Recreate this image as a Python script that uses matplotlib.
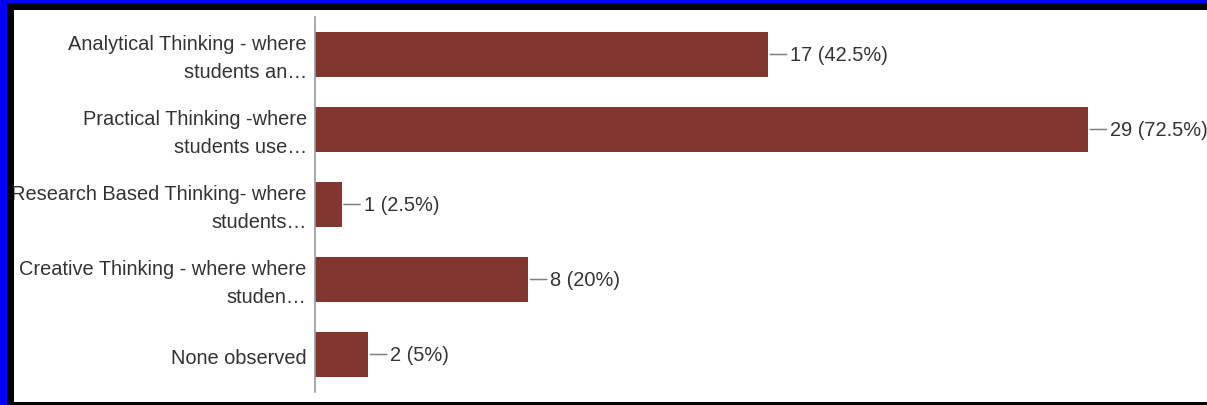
import matplotlib.pyplot as plt
from matplotlib.patches import Rectangle
from matplotlib.transforms import ScaledTranslation

# Survey answers: which kind of thinking was observed
categories = [
    "Analytical Thinking - where\nstudents an\u2026",
    "Practical Thinking -where\nstudents use\u2026",
    "Research Based Thinking- where\nstudents\u2026",
    "Creative Thinking - where where\nstuden\u2026",
    "None observed",
]
counts = [17, 29, 1, 8, 2]
percents = ["42.5%", "72.5%", "2.5%", "20%", "5%"]

W, H = 1207, 406
bar_color = "#82372e"

plt.rcParams['font.family'] = ['Liberation Sans', 'DejaVu Sans']

fig = plt.figure(figsize=(W / 100, H / 100), dpi=100, facecolor="white")
ax = fig.add_axes([315 / W, 13 / H, 875 / W, 375 / H])

ypos = list(range(len(categories)))
ax.barh(ypos, counts, height=0.61, color=bar_color, zorder=2)
ax.set_xlim(0, 875 / 26.66)
ax.set_ylim(len(categories) - 0.5, -0.5)

ax.set_yticks(ypos)
ax.set_yticklabels(categories, fontsize=14.4, color="#333333", linespacing=1.65, va="center")
ax.tick_params(axis="y", length=0, pad=6)
ax.set_xticks([])
# nudge the category labels down a little
nudge = ScaledTranslation(0, -3 / 100, fig.dpi_scale_trans)
for lbl in ax.get_yticklabels():
    lbl.set_transform(lbl.get_transform() + nudge)

for s in ["top", "right", "bottom"]:
    ax.spines[s].set_visible(False)
ax.spines["left"].set_color("#9a9a9a")
ax.spines["left"].set_linewidth(1.2)

# value labels with a short leader line
for i, (c, p) in enumerate(zip(counts, percents)):
    ax.annotate(f"{c} ({p})", xy=(c, i), xytext=(22, 0), textcoords="offset pixels",
                va="center", ha="left", fontsize=14.4, color="#333333",
                annotation_clip=False,
                arrowprops=dict(arrowstyle="-", color="#808080", lw=1.1,
                                relpos=(0, 0.5), shrinkA=0.5, shrinkB=1.5))


def frame(x0, y0, w, h, color):
    fig.patches.append(Rectangle((x0 / W, 1 - (y0 + h) / H), w / W, h / H,
                                 transform=fig.transFigure, color=color,
                                 zorder=10, linewidth=0))


# border around the panel
frame(0, 0, W, 11, "black")
frame(0, 0, 14, H, "black")
frame(0, 403, W, 3, "black")
frame(0, 0, W, 3.5, "#0000ff")
frame(0, 0, 7, H, "#0000ff")

fig.savefig("out.png", dpi=100, facecolor="white")
